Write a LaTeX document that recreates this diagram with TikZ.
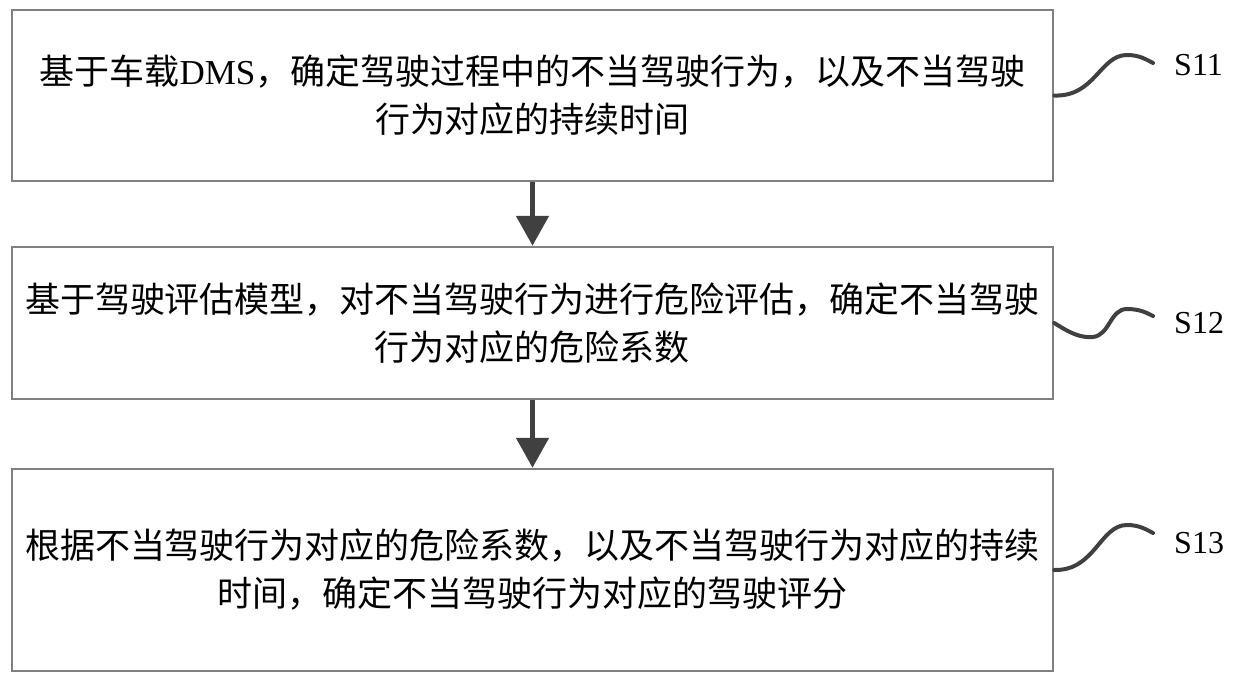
\documentclass[tikz,border=0pt]{standalone}
\usepackage{fontspec}
\setmainfont{Liberation Serif}
\newfontfamily\cjk{Noto Sans CJK SC}
\usetikzlibrary{arrows.meta}
\definecolor{boxgray}{HTML}{808080}
\definecolor{ink}{HTML}{404040}
\begin{document}
\begin{tikzpicture}[x=1pt,y=-1pt,
  stepbox/.style={draw=boxgray, line width=2.5pt, minimum width=1041pt, inner sep=0pt, align=center,
    font=\fontsize{35}{48}\selectfont\cjk},
  flow/.style={draw=ink, line width=5pt, -{Triangle[width=32pt,length=30pt]}},
  wave/.style={draw=ink, line width=4pt, line cap=round},
  lab/.style={anchor=west, font=\fontsize{32}{38}\selectfont, inner sep=0pt}]
\useasboundingbox (0,0) rectangle (1240,688);
\node[stepbox, minimum height=171pt] (b1) at (532.5,95.5)
  {基于车载{\rmfamily DMS}，确定驾驶过程中的不当驾驶行为，以及不当驾驶\\行为对应的持续时间};
\node[stepbox, minimum height=152pt] (b2) at (532.5,323)
  {基于驾驶评估模型，对不当驾驶行为进行危险评估，确定不当驾驶\\行为对应的危险系数};
\node[stepbox, minimum height=202pt] (b3) at (532.5,570)
  {根据不当驾驶行为对应的危险系数，以及不当驾驶行为对应的持续\\时间，确定不当驾驶行为对应的驾驶评分};
\draw[flow] (b1.south) -- (b2.north);
\draw[flow] (b2.south) -- (b3.north);
\coordinate (w1) at (1153,63);
\coordinate (w2) at (1153,316);
\coordinate (w3) at (1153,533);
\draw[wave] (b1.east) .. controls (1095,97) and (1100,55) .. (1127,55) .. controls (1140,55) and (1147,60) .. (w1);
\draw[wave] (b2.east) .. controls (1070,333) and (1080,338) .. (1093,337) .. controls (1110,335) and (1110,309) .. (1127,309) .. controls (1140,309) and (1147,313) .. (w2);
\draw[wave] (b3.east) .. controls (1095,571) and (1100,525) .. (1127,525) .. controls (1140,525) and (1147,530) .. (w3);
\node[lab] (s11) at (1174,65) {S11};
\node[lab] (s12) at (1174,323) {S12};
\node[lab] (s13) at (1174,543) {S13};
\end{tikzpicture}
\end{document}
